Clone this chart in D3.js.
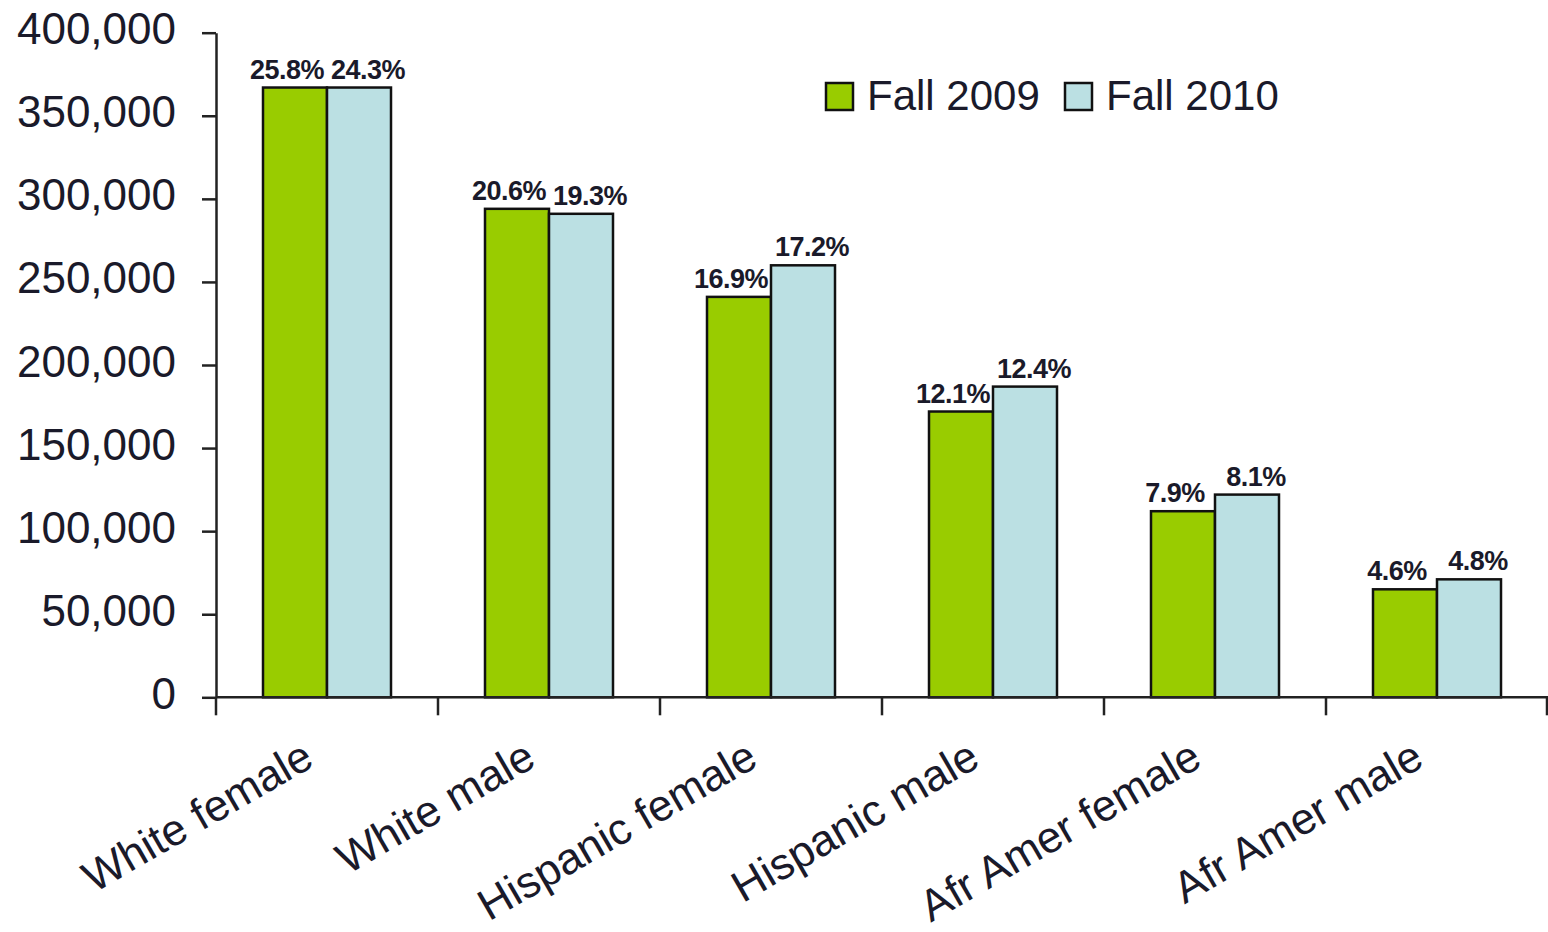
<!DOCTYPE html>
<html>
<head>
<meta charset="utf-8">
<script src="https://cdn.jsdelivr.net/npm/d3@7"></script>
<style>
  body { margin: 0; background: #fff; }
  svg text { font-family: "Liberation Sans", Arial, sans-serif; fill: #000; }
</style>
</head>
<body>
<svg id="chart" width="1548" height="932"></svg>
<script>
// data
var categories = ['White female', 'White male', 'Hispanic female', 'Hispanic male', 'Afr Amer female', 'Afr Amer male'];
var seriesNames = ['Fall 2009', 'Fall 2010'];
var fall2009 = [367000, 294000, 241000, 172000, 112000, 65000];
var fall2010 = [367000, 291000, 260000, 187000, 122000, 71000];
var pct2009 = ['25.8%', '20.6%', '16.9%', '12.1%', '7.9%', '4.6%'];
var pct2010 = ['24.3%', '19.3%', '17.2%', '12.4%', '8.1%', '4.8%'];
var yTicks = [0, 50000, 100000, 150000, 200000, 250000, 300000, 350000, 400000];

var colors = ['#99cc00', '#bbe0e3'];

var svg = d3.select('#chart');
var plotLeft = 216, plotRight = 1548, plotTop = 32.7, plotBottom = 697.3;

var x = d3.scaleBand().domain(categories).range([plotLeft, plotRight]).padding(0);
var xs = d3.scaleBand().domain(seriesNames).range([47, 175]);
var y = d3.scaleLinear().domain([0, 400000]).range([plotBottom, plotTop]);

// build rows for drawing
var rows = [];
categories.forEach(function(c, i) {
  rows.push({ cat: c, s: seriesNames[0], v: fall2009[i], p: pct2009[i], k: 0 });
  rows.push({ cat: c, s: seriesNames[1], v: fall2010[i], p: pct2010[i], k: 1 });
});

// bars
svg.append('g').selectAll('rect')
  .data(rows)
  .enter().append('rect')
  .attr('x', d => x(d.cat) + xs(d.s))
  .attr('y', d => y(d.v))
  .attr('width', xs.bandwidth())
  .attr('height', d => plotBottom - y(d.v))
  .style('fill', d => colors[d.k])
  .style('stroke', '#111')
  .style('stroke-width', 2.5);

// percent labels
svg.append('g').selectAll('text')
  .data(rows)
  .enter().append('text')
  .attr('x', d => x(d.cat) + xs(d.s) + xs.bandwidth() / 2 + (d.k == 0 ? -8 : 9))
  .attr('y', d => y(d.v) - 9)
  .attr('text-anchor', 'middle')
  .style('font-size', '27px')
  .style('font-weight', 'bold')
  .style('letter-spacing', '-0.5px')
  .style('fill', '#1a1a2a')
  .text(d => d.p);

// y axis
var yAxis = svg.append('g')
  .attr('transform', `translate(${plotLeft},0)`)
  .call(d3.axisLeft(y).tickValues(yTicks)
    .tickFormat(d3.format(','))
    .tickSize(14).tickSizeOuter(0).tickPadding(26));
yAxis.select('.domain').style('stroke', '#222').style('stroke-width', 2.5);
yAxis.selectAll('.tick line').style('stroke', '#222').style('stroke-width', 2.5);
yAxis.selectAll('.tick text')
  .style('font-size', '44px')
  .style('font-family', '"Liberation Sans", Arial, sans-serif')
  .attr('dy', '0.25em')
  .style('fill', '#1a1a2a');

// x axis line and boundary ticks
svg.append('line')
  .attr('x1', plotLeft).attr('x2', plotRight)
  .attr('y1', plotBottom).attr('y2', plotBottom)
  .style('stroke', '#222').style('stroke-width', 2.5);
var bounds = categories.map(c => x(c)).concat([plotRight - 1]);
svg.append('g').selectAll('line')
  .data(bounds)
  .enter().append('line')
  .attr('x1', d => d).attr('x2', d => d)
  .attr('y1', plotBottom).attr('y2', plotBottom + 18)
  .style('stroke', '#222').style('stroke-width', 2.5);

// rotated category labels
svg.append('g').selectAll('text')
  .data(categories)
  .enter().append('text')
  .attr('transform', d => `translate(${x(d) + x.bandwidth() / 2 - 11},765) rotate(-30)`)
  .attr('text-anchor', 'end')
  .style('font-size', '44px')
  .style('fill', '#1a1a2a')
  .text(d => d);

// legend
var legendX = [826, 1065];
var legend = svg.append('g').selectAll('g')
  .data(seriesNames)
  .enter().append('g')
  .attr('transform', (d, i) => `translate(${legendX[i]},83)`);
legend.append('rect')
  .attr('width', 27).attr('height', 27)
  .style('fill', (d, i) => colors[i])
  .style('stroke', '#111').style('stroke-width', 2.5);
legend.append('text')
  .attr('x', 41).attr('y', 27)
  .style('font-size', '42px')
  .style('fill', '#1a1a2a')
  .text(d => d);
</script>
</body>
</html>
